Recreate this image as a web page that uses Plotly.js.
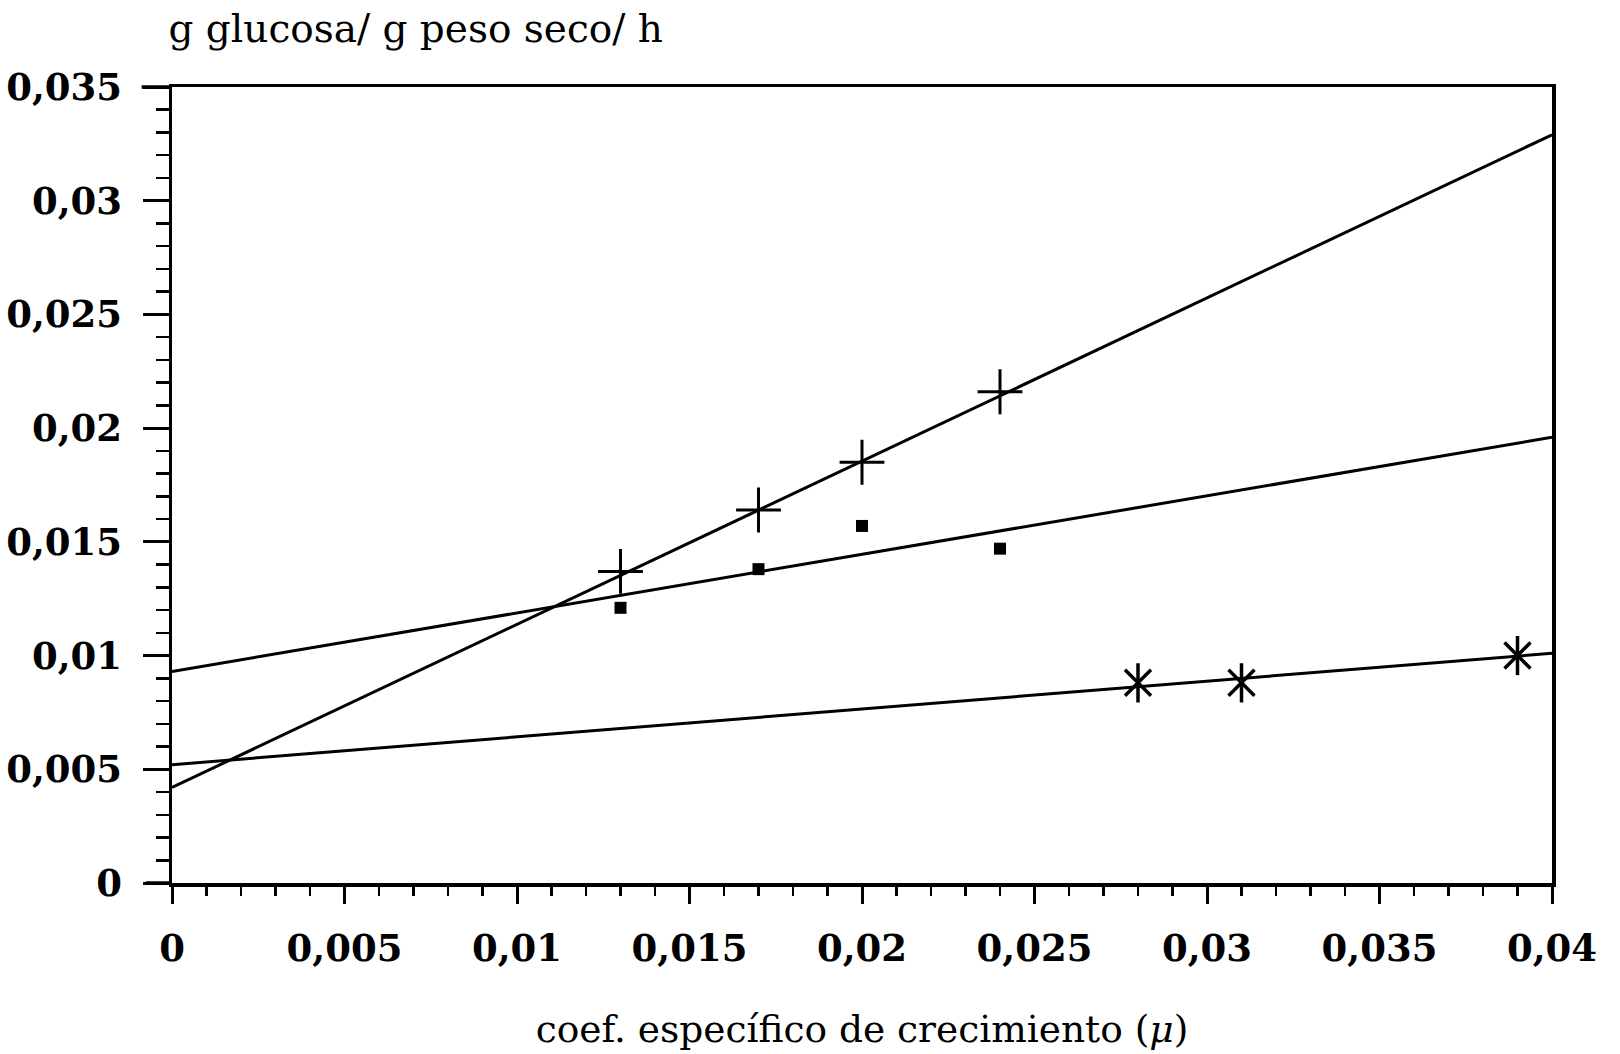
<!DOCTYPE html>
<html>
<head>
<meta charset="utf-8">
<script src="https://cdn.plot.ly/plotly-3.0.1.min.js"></script>
<style>html,body{margin:0;padding:0;background:#fff;}#chart{width:1620px;height:1054px;}</style>
</head>
<body>
<div id="chart"></div>
<script>
// Series
var plusX = [0.013, 0.017, 0.020, 0.024];
var plusY = [0.0137, 0.0164, 0.0185, 0.0216];
var squareX = [0.013, 0.017, 0.020, 0.024];
var squareY = [0.0121, 0.0138, 0.0157, 0.0147];
var starX = [0.028, 0.031, 0.039];
var starY = [0.0088, 0.0088, 0.0100];

// Fitted straight lines (end points at x = 0 and x = 0.04)
var fitX = [0, 0.04];
var fitPlusY = [0.0042, 0.0329];
var fitSquareY = [0.0093, 0.0196];
var fitStarY = [0.0052, 0.0101];

// Tick labels
var xTickVals = [0, 0.005, 0.01, 0.015, 0.02, 0.025, 0.03, 0.035, 0.04];
var xTickText = ['0', '0,005', '0,01', '0,015', '0,02', '0,025', '0,03', '0,035', '0,04'];
var yTickVals = [0, 0.005, 0.01, 0.015, 0.02, 0.025, 0.03, 0.035];
var yTickText = ['0', '0,005', '0,01', '0,015', '0,02', '0,025', '0,03', '0,035'];

var titleText = 'g glucosa/ g peso seco/ h';
var xTitleText = 'coef. específico de crecimiento (<i>μ</i>)';

var lineStyle = {color: '#000', width: 3};
var traces = [
  {x: fitX, y: fitPlusY, mode: 'lines', line: lineStyle, hoverinfo: 'skip'},
  {x: fitX, y: fitSquareY, mode: 'lines', line: lineStyle, hoverinfo: 'skip'},
  {x: fitX, y: fitStarY, mode: 'lines', line: lineStyle, hoverinfo: 'skip'},
  {x: plusX, y: plusY, mode: 'markers',
   marker: {symbol: 'cross-thin-open', size: 32, color: '#000', line: {color: '#000', width: 3}}},
  {x: squareX, y: squareY, mode: 'markers',
   marker: {symbol: 'square', size: 12, color: '#000', line: {width: 0}}},
  {x: starX, y: starY, mode: 'markers',
   marker: {symbol: 'x-thin-open', size: 26, color: '#000', line: {color: '#000', width: 3.5}}},
  {x: starX, y: starY, mode: 'markers',
   marker: {symbol: 'line-ns-open', size: 28, color: '#000', line: {color: '#000', width: 3.5}}}
];

var tickFont = {family: 'DejaVu Serif', size: 37, color: '#000', weight: 'bold'};
var layout = {
  width: 1620, height: 1054,
  paper_bgcolor: '#fff', plot_bgcolor: '#fff',
  showlegend: false,
  separators: ',.',
  margin: {l: 172, r: 68, t: 87, b: 171, pad: 0},
  title: {text: titleText, xref: 'container', yref: 'container', x: 0.104, xanchor: 'left',
          y: 0.973, yanchor: 'middle', font: {family: 'DejaVu Serif', size: 39, color: '#000'}},
  xaxis: {
    range: [0, 0.04], showgrid: false, zeroline: false,
    showline: true, linecolor: '#000', linewidth: 3.5, mirror: true,
    tickmode: 'array', tickvals: xTickVals, ticktext: xTickText,
    ticks: 'outside', ticklen: 17, tickwidth: 3, tickcolor: '#000',
    ticklabelstandoff: 13,
    tickfont: tickFont,
    minor: {dtick: 0.001, ticks: 'outside', ticklen: 9, tickwidth: 2.5, tickcolor: '#000', showgrid: false},
    title: {text: xTitleText, standoff: 48, font: {family: 'DejaVu Serif', size: 37.5, color: '#000'}}
  },
  yaxis: {
    range: [0, 0.035], showgrid: false, zeroline: false,
    showline: true, linecolor: '#000', linewidth: 3.5, mirror: true,
    tickmode: 'array', tickvals: yTickVals, ticktext: yTickText,
    ticks: 'outside', ticklen: 26, tickwidth: 3, tickcolor: '#000',
    ticklabelstandoff: 13,
    tickfont: tickFont,
    minor: {dtick: 0.001, ticks: 'outside', ticklen: 13, tickwidth: 2.5, tickcolor: '#000', showgrid: false}
  },
  shapes: [
    {type: 'line', xref: 'paper', yref: 'paper', x0: -0.022, x1: 0, y0: 1, y1: 1, line: {color: '#000', width: 3.5}},
    {type: 'line', xref: 'paper', yref: 'paper', x0: -0.019, x1: 0, y0: 0, y1: 0, line: {color: '#000', width: 3.5}}
  ]
};

Plotly.newPlot('chart', traces, layout, {displayModeBar: false, staticPlot: true});
</script>
</body>
</html>
